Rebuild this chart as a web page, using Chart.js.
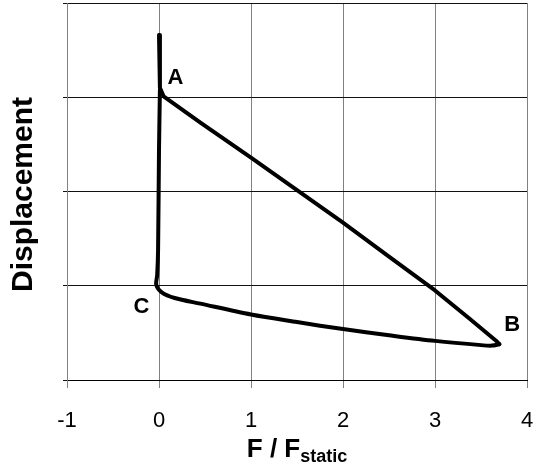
<!DOCTYPE html>
<html>
<head>
<meta charset="utf-8">
<script src="https://cdn.jsdelivr.net/npm/chart.js@4/dist/chart.umd.min.js"></script>
<style>
  html, body { margin: 0; padding: 0; background: #fff; }
  canvas { display: block; }
</style>
</head>
<body>
<canvas id="loopChart" width="536" height="465"></canvas>
<script>
// loop
// top -> A -> B (nearly straight)
const loadX = [0.00, 0.01, 0.05, 0.45, 1.00, 1.50, 2.00, 2.50, 3.00, 3.37, 3.66, 3.70];
const loadY = [3.66, 3.10, 3.01, 2.73, 2.36, 2.015, 1.67, 1.31, 0.95, 0.655, 0.42, 0.38];
// B -> C -> back up to A (curved)
const unloadX = [3.70, 3.62, 3.50, 3.00, 2.50, 2.00, 1.50, 1.00, 0.45, 0.17, 0.03, -0.03, -0.02, -0.01, 0.00, 0.01];
const unloadY = [0.38, 0.365, 0.37, 0.415, 0.475, 0.54, 0.615, 0.695, 0.81, 0.87, 0.93, 1.01, 1.11, 1.38, 2.44, 3.08];

const pointNames = ["A", "B", "C"];
const pointNameX = [0.18, 3.84, -0.19];
const pointNameY = [3.20, 0.58, 0.78];

const xMin = -1, xMax = 4;
const yMin = 0, yMax = 4;

const FONT = "'Liberation Sans', Arial, Helvetica, sans-serif";
Chart.defaults.font.family = FONT;
Chart.defaults.color = "#000";

// axis titles + A/B/C annotations
const textPlugin = {
  id: "textPlugin",
  afterDraw(chart){
    const ctx = chart.ctx;
    const xs = chart.scales.x, ys = chart.scales.y;
    const area = chart.chartArea;
    ctx.save();
    ctx.fillStyle = "#000";

    // point names
    ctx.font = "bold 22px " + FONT;
    ctx.textAlign = "center";
    ctx.textBaseline = "middle";
    pointNames.forEach((n,i)=>{
      ctx.fillText(n, xs.getPixelForValue(pointNameX[i]), ys.getPixelForValue(pointNameY[i]));
    });

    // x title: F / F_static
    ctx.textBaseline = "alphabetic";
    ctx.textAlign = "left";
    const main = "F / F";
    const sub = "static";
    ctx.font = "bold 26px " + FONT;
    const wMain = ctx.measureText(main).width;
    ctx.font = "bold 18px " + FONT;
    const wSub = ctx.measureText(sub).width;
    const cx = (area.left + area.right)/2;
    const startX = cx - (wMain + wSub)/2;
    ctx.font = "bold 26px " + FONT;
    ctx.fillText(main, startX, 457);
    ctx.font = "bold 18px " + FONT;
    ctx.fillText(sub, startX + wMain, 462);

    // y title
    ctx.save();
    ctx.translate(32, (area.top + area.bottom)/2 + 3);
    ctx.rotate(-Math.PI/2);
    ctx.textAlign = "center";
    ctx.font = "bold 30px " + FONT;
    ctx.fillText("Displacement", 0, 0);
    ctx.restore();

    ctx.restore();
  }
};

function pathSet(xs, ys, tension){
  return {
    data: xs.map((x,i)=>({x: x, y: ys[i]})),
    showLine: true,
    borderColor: "#000",
    borderWidth: 4,
    borderJoinStyle: "round",
    borderCapStyle: "round",
    pointRadius: 0,
    tension: tension,
    fill: false
  };
}

new Chart(document.getElementById("loopChart"), {
  type: "scatter",
  data: {
    datasets: [
      pathSet(loadX, loadY, 0),
      pathSet(unloadX, unloadY, 0.3)
    ]
  },
  options: {
    responsive: false,
    animation: false,
    layout: { padding: { top: 3, right: 9, left: 0, bottom: 0 } },
    plugins: { legend: { display: false }, tooltip: { enabled: false } },
    scales: {
      x: {
        type: "linear",
        min: xMin, max: xMax,
        afterFit(s){ s.height = 85; s.paddingLeft = 0; s.paddingRight = 0; },
        ticks: { stepSize: 1, font: { size: 22 }, padding: 20, color: "#000" },
        grid: { color: "#808080", lineWidth: 1, tickLength: 8, drawTicks: true },
        border: { color: "#000", width: 1 }
      },
      y: {
        type: "linear",
        min: yMin, max: yMax,
        afterFit(s){ s.width = 67; s.paddingTop = 0; s.paddingBottom = 0; },
        ticks: { stepSize: 1, display: false },
        grid: { color: "#111", lineWidth: 1, tickLength: 4, drawTicks: true },
        border: { color: "#808080", width: 1 }
      }
    }
  },
  plugins: [textPlugin]
});
</script>
</body>
</html>
